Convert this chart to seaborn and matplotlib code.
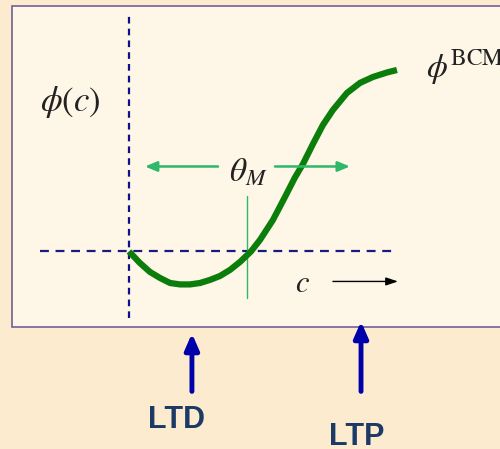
import numpy as np
import pandas as pd
import matplotlib
matplotlib.use("Agg")
import matplotlib.pyplot as plt
import seaborn as sns
from matplotlib.patches import Rectangle

# BCM modification function phi(c)
c_vals = [0.0, 0.092, 0.176, 0.261, 0.345, 0.429, 0.513, 0.597, 0.681, 0.765,
          0.849, 0.933, 1.025, 1.101, 1.210, 1.311, 1.395, 1.462, 1.546, 1.630,
          1.714, 1.832, 1.941, 2.050, 2.168, 2.252]
phi_vals = [0.0, -0.097, -0.172, -0.223, -0.265, -0.277, -0.277, -0.265, -0.239, -0.206,
            -0.155, -0.088, 0.0, 0.097, 0.265, 0.458, 0.622, 0.735, 0.903, 1.063,
            1.189, 1.332, 1.416, 1.466, 1.504, 1.525]
theta_m = 0.992
arrow_labels = ["LTD", "LTP"]
arrow_c = [0.529, 1.95]

sns.set_theme(style="white")
plt.rcParams["mathtext.fontset"] = "stix"

fig = plt.figure(figsize=(5, 4.49), dpi=100, facecolor="#fdebd0")
ax = fig.add_axes([0, 0, 1, 1])
ax.set_facecolor("#fdebd0")
ax.set_xlim(-1.084, 3.118)
ax.set_ylim(-1.660, 2.113)
ax.axis("off")

# inner panel
ax.add_patch(Rectangle((0.024, 0.272), 1.0, 0.715, transform=ax.transAxes,
                       facecolor="#fef6e6", edgecolor="#6e6199", lw=1.2, zorder=0))

# dashed axes
ax.plot([0, 0], [-0.563, 1.983], color="#10108f", lw=1.6, ls=(0, (3, 2.3)), zorder=1)
ax.plot([-0.748, 2.235], [0, 0], color="#1a1a80", lw=1.6, ls=(0, (4, 3)), zorder=1)

# the curve
df = pd.DataFrame({"c": c_vals, "phi": phi_vals})
sns.lineplot(data=df, x="c", y="phi", ax=ax, color="#0a7d0a", lw=4.5,
             solid_capstyle="butt", solid_joinstyle="round", sort=False, zorder=3)

# theta_M marker
ax.plot([theta_m, theta_m], [-0.395, 0.47], color="#2eb86a", lw=1.0, zorder=2)
green_arrow = dict(arrowstyle="-|>,head_length=0.6,head_width=0.25", color="#2eb86a",
                   lw=1.8, shrinkA=0, shrinkB=0)
ax.annotate("", xy=(0.134, 0.714), xytext=(0.748, 0.714), arrowprops=green_arrow)
ax.annotate("", xy=(1.857, 0.714), xytext=(1.227, 0.714), arrowprops=green_arrow)
ax.text(1.0, 0.67, r"$\theta_M$", fontsize=24, ha="center", va="center", color="#222222")

# labels
ax.text(-0.49, 1.26, r"$\phi(c)$", fontsize=25, ha="center", va="center", color="#222222")
ax.text(2.5, 1.55, r"$\phi^{\mathrm{BCM}}$", fontsize=24, ha="left", va="center", color="#222222")
ax.text(1.454, -0.269, r"$c$", fontsize=22, ha="center", va="center", color="#222222")
ax.annotate("", xy=(2.261, -0.252), xytext=(1.714, -0.252),
            arrowprops=dict(arrowstyle="-|>,head_length=0.6,head_width=0.2", color="black",
                            lw=1.0, shrinkA=0, shrinkB=0))

# LTD / LTP arrows
tips = [-0.689, -0.588]
text_y = [-1.42, -1.563]
text_x = [0.403, 1.916]
for lab, xc, tip, ty, tx in zip(arrow_labels, arrow_c, tips, text_y, text_x):
    ax.annotate("", xy=(xc, tip), xytext=(xc, -1.176),
                arrowprops=dict(arrowstyle="-|>,head_length=0.8,head_width=0.35",
                                color="#0000aa", lw=3.5, shrinkA=0, shrinkB=0))
    ax.text(tx, ty, lab, fontsize=22, fontweight="bold", family="Liberation Sans",
            color="#1b3a66", ha="center", va="center")

fig.savefig("out.png", dpi=100, facecolor=fig.get_facecolor())
